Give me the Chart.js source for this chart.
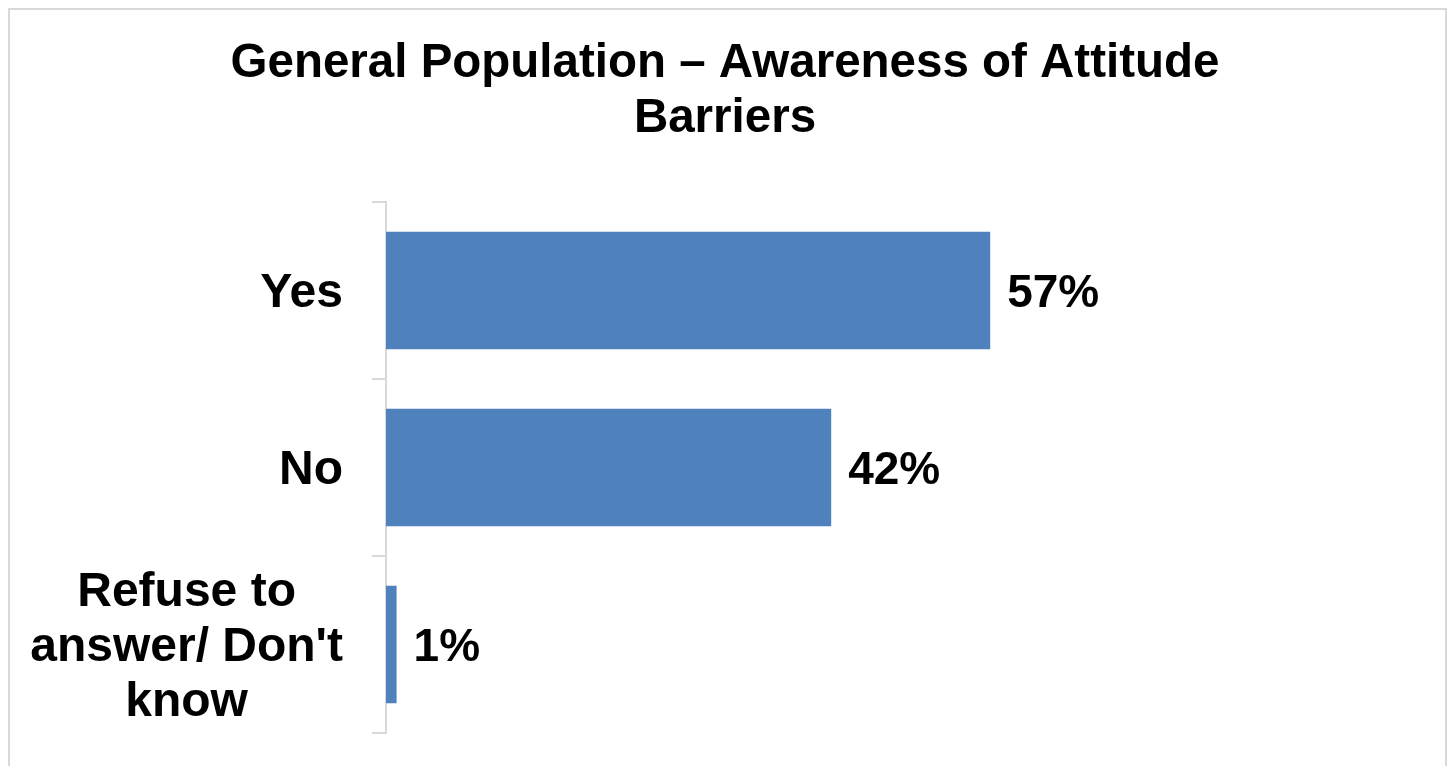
<!DOCTYPE html>
<html>
<head>
<meta charset="utf-8">
<script src="https://cdn.jsdelivr.net/npm/chart.js@4.4.1/dist/chart.umd.min.js"></script>
<style>
  html, body { margin: 0; padding: 0; background: #fff; overflow: hidden; }
  canvas { display: block; }
</style>
</head>
<body>
<canvas id="barCanvas" width="1450" height="766"></canvas>
<script>
const titleLines = ['General Population – Awareness of Attitude', 'Barriers'];
const categories = [['Yes'], ['No'], ['Refuse to', "answer/ Don't", 'know']];
const values = [57, 42, 1];
const valueLabels = ['57%', '42%', '1%'];

const FONT = '"Liberation Sans", Arial, sans-serif';
const GRID = '#d9d9d9';

// outer frame like the Excel chart border
const framePlugin = {
    id: 'frame',
    beforeDraw(chart) {
        const c = chart.ctx;
        c.save();
        c.fillStyle = '#fff';
        c.fillRect(0, 0, chart.width, chart.height);
        c.strokeStyle = GRID;
        c.lineWidth = 2;
        c.strokeRect(9, 9, 1437, 800);
        c.restore();
    }
};

// category labels: block right-aligned, lines centred inside the block
const catLabelPlugin = {
    id: 'catLabels',
    afterDraw(chart) {
        const c = chart.ctx;
        const y = chart.scales.y;
        const right = chart.chartArea.left - 43;
        const lh = 55;
        c.save();
        c.font = 'bold 48px ' + FONT;
        c.fillStyle = '#000';
        c.textBaseline = 'middle';
        c.textAlign = 'center';
        categories.forEach((lines, i) => {
            const cy = y.getPixelForTick(i) + 3;
            const w = Math.max(...lines.map(l => c.measureText(l).width));
            const cx = right - w / 2;
            const top = cy - (lines.length - 1) * lh / 2;
            lines.forEach((l, j) => c.fillText(l, cx, top + j * lh));
        });
        c.restore();
    }
};

// value labels at the end of each bar
const valueLabelPlugin = {
    id: 'valueLabels',
    afterDatasetsDraw(chart) {
        const c = chart.ctx;
        const meta = chart.getDatasetMeta(0);
        c.save();
        c.font = 'bold 46px ' + FONT;
        c.fillStyle = '#000';
        c.textBaseline = 'middle';
        c.textAlign = 'left';
        meta.data.forEach((bar, i) => {
            c.fillText(valueLabels[i], bar.x + 17, bar.y + 4);
        });
        c.restore();
    }
};

const ctx = document.getElementById('barCanvas').getContext('2d');
const myChart = new Chart(ctx, {
    type: 'bar',
    data: {
        labels: categories,
        datasets: [{
            data: values,
            backgroundColor: '#4F81BD',
            borderWidth: 0,
            barPercentage: 0.665,
            categoryPercentage: 1
        }]
    },
    options: {
        indexAxis: 'y',
        responsive: false,
        animation: false,
        layout: { padding: { left: 4, right: 4, top: 0, bottom: 33 } },
        plugins: {
            legend: { display: false },
            tooltip: { enabled: false },
            title: {
                display: true,
                text: titleLines,
                color: '#000',
                font: { family: FONT, size: 47.5, weight: 'bold', lineHeight: '55px' },
                padding: { top: 36, bottom: 56 }
            }
        },
        scales: {
            x: {
                display: false,
                min: 0,
                max: 100
            },
            y: {
                afterFit(scale) { scale.width = 382; },
                ticks: { display: false },
                grid: {
                    display: true,
                    drawOnChartArea: false,
                    drawTicks: true,
                    tickLength: 14,
                    color: GRID,
                    lineWidth: 2
                },
                border: { display: true, color: GRID, width: 2 }
            }
        }
    },
    plugins: [framePlugin, catLabelPlugin, valueLabelPlugin]
});
</script>
</body>
</html>
